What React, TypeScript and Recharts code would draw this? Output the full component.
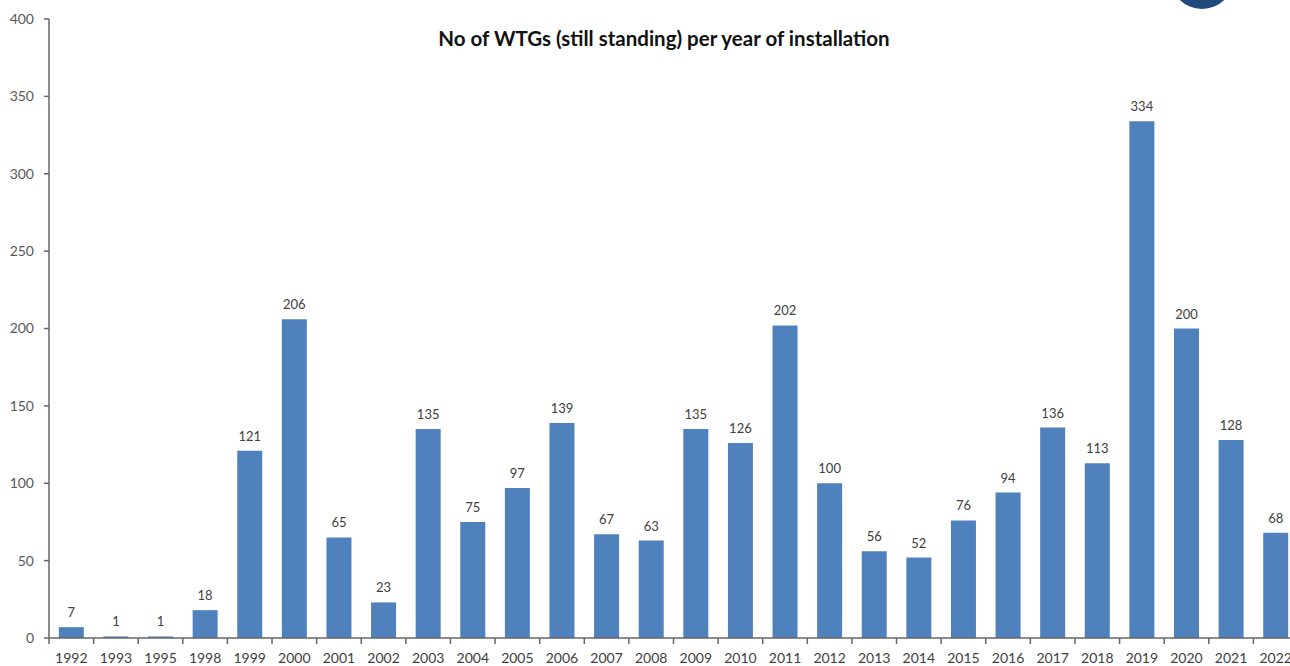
import React from 'react';
import { BarChart, Bar, XAxis, YAxis, LabelList } from 'recharts';

const years = [
  '1992', '1993', '1995', '1998', '1999', '2000', '2001', '2002', '2003', '2004',
  '2005', '2006', '2007', '2008', '2009', '2010', '2011', '2012', '2013', '2014',
  '2015', '2016', '2017', '2018', '2019', '2020', '2021', '2022',
];
const turbines = [
  7, 1, 1, 18, 121, 206, 65, 23, 135, 75,
  97, 139, 67, 63, 135, 126, 202, 100, 56, 52,
  76, 94, 136, 113, 334, 200, 128, 68,
];
const yTicks = [0, 50, 100, 150, 200, 250, 300, 350, 400];

const data = years.map((year, i) => ({ year, count: turbines[i] }));

const FONT = 'Lato, "Open Sans", sans-serif';
const AXIS = '#666';
const TICK_MARGIN = 10;
const TICK_SIZE = 5;

// category ticks sit between bars, like Excel's default
function YearTick(props: any) {
  const { x, y, payload, width, visibleTicksCount } = props;
  const band = width / visibleTicksCount;
  const left = x - band / 2;
  const axisY = y - TICK_MARGIN - TICK_SIZE;
  return (
    <g>
      <line x1={left} x2={left} y1={axisY} y2={axisY + 6} stroke={AXIS} strokeWidth={1.5} />
      <text x={x} y={y} dy="0.71em" textAnchor="middle" fontSize={14} fill="#404040" fontFamily={FONT}>
        {payload.value}
      </text>
    </g>
  );
}

export default function App() {
  return (
    <div
      style={{
        position: 'fixed',
        left: 0,
        top: 0,
        width: 1290,
        height: 666,
        overflow: 'hidden',
        background: '#fff',
        fontFamily: FONT,
      }}
    >
      {/* logo fragment, top right */}
      <div
        style={{
          position: 'absolute',
          left: 1170,
          top: -55,
          width: 64,
          height: 64,
          borderRadius: '50%',
          background: '#1f4a7c',
        }}
      />
      <div
        style={{
          position: 'absolute',
          left: 664,
          top: 26,
          transform: 'translateX(-50%)',
          fontSize: 20.5,
          fontWeight: 700,
          color: '#111',
          whiteSpace: 'nowrap',
        }}
      >
        No of WTGs (still standing) per year of installation
      </div>
      <BarChart
        width={1300}
        height={666}
        data={data}
        margin={{ top: 19, right: 2, bottom: 0, left: 0 }}
        barCategoryGap="22%"
      >
        <XAxis
          dataKey="year"
          height={28}
          interval={0}
          tickSize={TICK_SIZE}
          tickMargin={TICK_MARGIN}
          axisLine={{ stroke: AXIS, strokeWidth: 1.5 }}
          tickLine={false}
          tick={<YearTick />}
        />
        <YAxis
          width={49}
          domain={[0, 400]}
          ticks={yTicks}
          tickSize={5}
          tickMargin={10}
          axisLine={{ stroke: AXIS, strokeWidth: 1.5 }}
          tickLine={{ stroke: AXIS, strokeWidth: 1.5 }}
          tick={{ fontSize: 14, fill: '#595959', fontFamily: FONT }}
        />
        <Bar dataKey="count" fill="#4f81bd" isAnimationActive={false}>
          <LabelList
            dataKey="count"
            position="top"
            offset={10}
            style={{ fontSize: 13, fill: '#404040', fontFamily: FONT }}
          />
        </Bar>
      </BarChart>
    </div>
  );
}
